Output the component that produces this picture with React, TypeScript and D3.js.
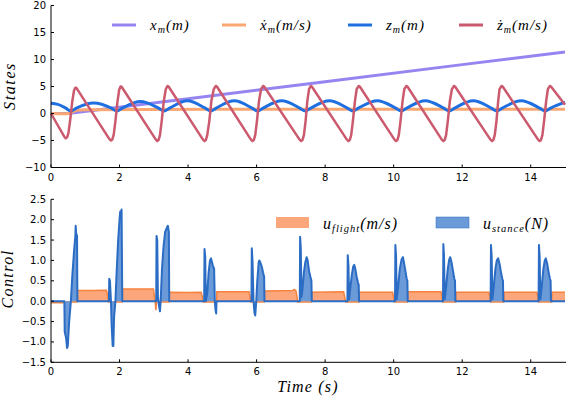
import React from 'react';
import * as d3 from 'd3';

// ---- data ----
const timeTicks = [0, 2, 4, 6, 8, 10, 12, 14];
const statesTicks = [-10, -5, 0, 5, 10, 15, 20];
const controlTicks = [-1.5, -1.0, -0.5, 0.0, 0.5, 1.0, 1.5, 2.0, 2.5];

// x_m (m)
const xPos: [number, number][] = [
  [0, 0], [0.5, 0.02], [4, 2.75], [8, 5.9], [12, 9.05], [15, 11.4],
];
// x dot (m/s)
const xVel: [number, number][] = [
  [0, 0], [0.45, -0.05], [0.6, 0.2], [0.75, 0.6], [1.0, 0.7], [3, 0.75], [6, 0.8], [15, 0.8],
];
// z_m (m)
const zPos: [number, number][] = [
  [0, 1.9], [0.2, 1.7], [0.42, 1.05], [0.58, 0.45], [0.74, 1.0], [1.25, 1.95],
  [1.76, 1.0], [1.92, 0.45], [2.08, 1.0], [2.61, 2.2],
  [3.14, 1.0], [3.3, 0.45], [3.46, 1.0], [3.98, 2.35],
  [4.5, 1.0], [4.66, 0.45], [4.82, 1.0], [5.35, 2.35],
  [5.87, 1.0], [6.03, 0.45], [6.19, 1.0], [6.73, 2.35],
  [7.26, 1.0], [7.42, 0.45], [7.58, 1.0], [8.12, 2.35],
  [8.65, 1.0], [8.81, 0.45], [8.97, 1.0], [9.52, 2.35],
  [10.06, 1.0], [10.22, 0.45], [10.38, 1.0], [10.92, 2.35],
  [11.46, 1.0], [11.62, 0.45], [11.78, 1.0], [12.32, 2.35],
  [12.85, 1.0], [13.01, 0.45], [13.17, 1.0], [13.72, 2.35],
  [14.26, 1.0], [14.42, 0.45], [14.58, 1.0], [15, 2.1],
];
// z dot (m/s)
const zVel: [number, number][] = [
  [0, 0], [0.4, -4.4], [0.43, -4.6], [0.47, -4.4], [0.51, -3.6], [0.56, -1.2], [0.62, 2.2], [0.67, 4.2], [0.71, 4.75], [0.74, 4.75],
  [1.7, -4.7], [1.75, -5.0], [1.79, -4.8], [1.83, -3.9], [1.88, -1.4], [1.94, 2.2], [1.99, 4.4], [2.03, 5.0], [2.06, 4.95],
  [3.05, -4.75], [3.1, -5.1], [3.14, -4.9], [3.18, -4.0], [3.23, -1.4], [3.29, 2.2], [3.35, 4.5], [3.4, 5.1], [3.43, 5.0],
  [4.43, -4.8], [4.48, -5.1], [4.52, -4.9], [4.56, -4.0], [4.62, -1.4], [4.68, 2.3], [4.75, 4.5], [4.81, 5.1], [4.84, 5.0],
  [5.83, -4.8], [5.88, -5.1], [5.92, -4.9], [5.96, -4.0], [6.01, -1.4], [6.07, 2.3], [6.13, 4.5], [6.19, 5.1], [6.22, 5.0],
  [7.25, -4.8], [7.3, -5.1], [7.34, -4.9], [7.38, -4.0], [7.43, -1.4], [7.48, 2.3], [7.53, 4.5], [7.58, 5.1], [7.61, 5.0],
  [8.63, -4.8], [8.68, -5.1], [8.72, -4.9], [8.76, -4.0], [8.81, -1.4], [8.87, 2.3], [8.92, 4.5], [8.98, 5.1], [9.01, 5.0],
  [10.02, -4.8], [10.07, -5.1], [10.11, -4.9], [10.15, -4.0], [10.2, -1.4], [10.26, 2.3], [10.31, 4.5], [10.37, 5.1], [10.4, 5.0],
  [11.4, -4.8], [11.45, -5.1], [11.49, -4.9], [11.53, -4.0], [11.58, -1.4], [11.64, 2.3], [11.7, 4.5], [11.76, 5.1], [11.79, 5.0],
  [12.82, -4.8], [12.87, -5.1], [12.91, -4.9], [12.95, -4.0], [13.0, -1.4], [13.05, 2.3], [13.09, 4.5], [13.15, 5.1], [13.18, 5.0],
  [14.21, -4.8], [14.26, -5.1], [14.3, -4.9], [14.34, -4.0], [14.39, -1.4], [14.45, 2.3], [14.5, 4.5], [14.56, 5.1], [14.59, 5.0],
  [15, 1.6],
];

// u_flight (m/s)
const uFlight: [number, number][] = [
  [0, -0.04], [0.44, -0.04], [0.46, -0.02], [0.76, -0.02], [0.77, 0.26], [1.2, 0.26], [1.62, 0.27], [1.66, 0.1], [1.68, -0.02],
  [2.08, -0.02], [2.09, 0.3], [2.6, 0.3], [2.99, 0.3], [3.02, 0.1], [3.04, -0.02], [3.06, -0.22], [3.08, -0.02],
  [3.44, -0.02], [3.45, 0.22], [4.0, 0.21], [4.38, 0.22], [4.42, 0.1], [4.44, -0.02],
  [4.83, -0.02], [4.84, 0.23], [5.78, 0.23], [5.81, 0.1], [5.83, -0.02],
  [6.22, -0.02], [6.23, 0.25], [7.05, 0.26], [7.1, 0.29], [7.15, 0.25], [7.18, 0.1], [7.2, -0.02],
  [7.6, -0.02], [7.61, 0.22], [8.54, 0.23], [8.57, 0.1], [8.6, -0.02],
  [8.99, -0.02], [9.0, 0.22], [9.97, 0.22], [10.0, 0.1], [10.02, -0.02],
  [10.4, -0.02], [10.41, 0.23], [11.38, 0.23], [11.41, 0.1], [11.43, -0.02],
  [11.81, -0.02], [11.82, 0.22], [12.78, 0.22], [12.81, 0.1], [12.83, -0.02],
  [13.21, -0.02], [13.22, 0.22], [14.18, 0.22], [14.21, 0.1], [14.23, -0.02],
  [14.61, -0.02], [14.62, 0.22], [15, 0.22],
];

// u_stance (N)
const uStance: [number, number][] = [
  [0, 0],
  [0.39, 0], [0.4, -0.75], [0.44, -0.9], [0.47, -1.15], [0.49, -1.1], [0.53, -0.5], [0.58, 0], [0.62, 0.6], [0.67, 1.2], [0.71, 1.6], [0.72, 1.85], [0.74, 1.6], [0.76, 1.62], [0.77, 0],
  [1.69, 0], [1.7, 0.55], [1.72, 0.5], [1.75, 0], [1.77, -0.6], [1.8, -1.1], [1.82, -1.1], [1.84, -0.4], [1.88, 0], [1.92, 0.8], [1.96, 1.5], [2.0, 2.0], [2.02, 2.2], [2.04, 2.1], [2.06, 2.25], [2.08, 0],
  [3.07, 0], [3.08, 1.6], [3.1, 1.5], [3.12, 0.1], [3.15, -0.1], [3.18, -0.25], [3.2, 0], [3.24, 0.8], [3.28, 1.3], [3.33, 1.7], [3.38, 1.8], [3.41, 1.85], [3.44, 1.7], [3.45, 0],
  [4.47, 0], [4.48, 1.28], [4.5, 1.1], [4.52, 0], [4.56, 0.2], [4.6, 0.7], [4.64, 1.0], [4.67, 1.05], [4.7, 0.95], [4.73, 0.85], [4.76, 0.8], [4.78, 0], [4.8, -0.2], [4.82, -0.3], [4.83, 0],
  [5.85, 0], [5.86, 1.3], [5.88, 1.0], [5.91, 0], [5.94, -0.3], [5.96, -0.35], [5.99, 0], [6.02, 0.5], [6.06, 0.95], [6.08, 1.0], [6.11, 0.95], [6.15, 0.85], [6.19, 0.7], [6.22, 0.6], [6.23, 0],
  [7.26, 0], [7.27, 1.58], [7.29, 1.3], [7.31, 0.1], [7.34, 0.3], [7.38, 0.7], [7.42, 0.95], [7.46, 1.08], [7.49, 1.0], [7.53, 0.75], [7.57, 0.6], [7.6, 0.5], [7.61, 0],
  [8.65, 0], [8.66, 1.13], [8.68, 0.9], [8.7, 0.05], [8.73, 0.3], [8.78, 0.65], [8.82, 0.85], [8.85, 0.89], [8.88, 0.8], [8.92, 0.6], [8.96, 0.45], [8.98, 0.4], [8.99, 0],
  [10.04, 0], [10.05, 1.38], [10.07, 1.1], [10.09, 0.05], [10.13, 0.35], [10.18, 0.8], [10.23, 1.02], [10.27, 1.08], [10.3, 0.95], [10.34, 0.75], [10.38, 0.55], [10.4, 0.5], [10.41, 0],
  [11.44, 0], [11.45, 1.4], [11.47, 1.1], [11.49, 0.05], [11.53, 0.35], [11.58, 0.8], [11.62, 1.02], [11.65, 1.08], [11.69, 0.95], [11.73, 0.75], [11.77, 0.55], [11.79, 0.5], [11.8, 0],
  [12.83, 0], [12.84, 1.38], [12.86, 1.1], [12.88, 0.05], [12.92, 0.35], [12.97, 0.8], [13.01, 1.0], [13.05, 1.05], [13.09, 0.92], [13.13, 0.72], [13.17, 0.55], [13.19, 0.5], [13.2, 0],
  [14.23, 0], [14.24, 1.38], [14.26, 1.1], [14.28, 0.05], [14.32, 0.35], [14.37, 0.8], [14.41, 1.0], [14.44, 1.05], [14.48, 0.92], [14.52, 0.72], [14.56, 0.55], [14.58, 0.5], [14.59, 0],
  [15, 0],
];

const MATH = '"Liberation Serif", "Times New Roman", serif';
const SANS = '"DejaVu Sans", sans-serif';
const minus = (s: string) => s.replace('-', '\u2212');

export default function App() {
  const x = d3.scaleLinear().domain([0, 15]).range([51, 565]);
  const yTop = d3.scaleLinear().domain([-10, 20]).range([167.5, 5.5]);
  const yBot = d3.scaleLinear().domain([-1.5, 2.5]).range([362.3, 199.3]);

  const smooth = d3.line<[number, number]>().x(d => x(d[0])).y(d => yTop(d[1])).curve(d3.curveMonotoneX);
  const straight = d3.line<[number, number]>().x(d => x(d[0])).y(d => yTop(d[1]));
  const botLine = d3.line<[number, number]>().x(d => x(d[0])).y(d => yBot(d[1]));
  const botArea = d3.area<[number, number]>().x(d => x(d[0])).y0(yBot(0)).y1(d => yBot(d[1]));

  const topSeries = [
    { data: xPos, color: '#9585f0', w: 3, gen: straight },
    { data: xVel, color: '#fba772', w: 3, gen: smooth },
    { data: zPos, color: '#1f6fe0', w: 3, gen: smooth },
    { data: zVel, color: '#cc5a6e', w: 2.5, gen: straight },
  ];

  const topLegend = [
    { color: '#9585f0', x0: 112, main: 'x', sub: 'm', tail: '(m)' },
    { color: '#fba772', x0: 222, main: '\u1E8B', sub: 'm', tail: '(m/s)' },
    { color: '#1f6fe0', x0: 348, main: 'z', sub: 'm', tail: '(m)' },
    { color: '#cc5a6e', x0: 459, main: '\u017C', sub: 'm', tail: '(m/s)' },
  ];

  const axes = (y: d3.ScaleLinear<number, number>, ticks: number[], fmt: (v: number) => string, yAxis: number) => (
    <g>
      <line x1={51} x2={51} y1={y.range()[1]} y2={y.range()[0]} stroke="#000" strokeWidth={1} />
      <line x1={51} x2={566} y1={yAxis} y2={yAxis} stroke="#000" strokeWidth={1} />
      {ticks.map(t => (
        <g key={'y' + t}>
          <line x1={51} x2={54} y1={y(t)} y2={y(t)} stroke="#000" />
          <text x={46} y={y(t)} dy="0.35em" textAnchor="end" fontFamily={SANS} fontSize={10}>{minus(fmt(t))}</text>
        </g>
      ))}
      {timeTicks.map(t => (
        <g key={'x' + t}>
          <line x1={x(t)} x2={x(t)} y1={yAxis} y2={yAxis - 3} stroke="#000" />
          <text x={x(t)} y={yAxis + 13} textAnchor="middle" fontFamily={SANS} fontSize={10}>{t}</text>
        </g>
      ))}
    </g>
  );

  return (
    <div style={{ position: 'fixed', left: 0, top: 0 }}>
      <svg width={566} height={398} style={{ display: 'block', background: '#fff' }}>
        {/* top panel */}
        {topSeries.map((s, i) => (
          <path key={i} d={s.gen(s.data) || ''} fill="none" stroke={s.color} strokeWidth={s.w} strokeLinejoin="round" />
        ))}
        {axes(yTop, statesTicks, v => String(v), 167.5)}
        {topLegend.map((l, i) => (
          <g key={i}>
            <line x1={l.x0} x2={l.x0 + 24} y1={25} y2={25} stroke={l.color} strokeWidth={3} />
            <text x={l.x0 + 38} y={30} fontFamily={MATH} fontStyle="italic" fontSize={15} letterSpacing={1}>
              {l.main}<tspan fontSize={10} dy={3}>{l.sub}</tspan><tspan dy={-3}>{l.tail}</tspan>
            </text>
          </g>
        ))}
        <text transform="translate(15,86) rotate(-90)" textAnchor="middle" fontFamily={MATH} fontStyle="italic" fontSize={16} letterSpacing={1.6}>States</text>

        {/* bottom panel */}
        <path d={botArea(uFlight) || ''} fill="#fca77b" />
        <path d={botLine(uFlight) || ''} fill="none" stroke="#f5823f" strokeWidth={1.5} />
        <path d={botArea(uStance) || ''} fill="#6b9ad8" />
        <path d={botLine(uStance) || ''} fill="none" stroke="#2b6cc4" strokeWidth={2} strokeLinejoin="round" />
        {axes(yBot, controlTicks, v => v.toFixed(1), 362.3)}
        <rect x={276} y={217} width={33} height={11} fill="#fca77b" />
        <text x={323} y={229} fontFamily={MATH} fontStyle="italic" fontSize={16} letterSpacing={1}>
          u<tspan fontSize={10.5} dy={3}>flight</tspan><tspan dy={-3}>(m/s)</tspan>
        </text>
        <rect x={436} y={217} width={33} height={11} fill="#6b9ad8" stroke="#2b6cc4" strokeWidth={0.5} />
        <text x={483} y={229} fontFamily={MATH} fontStyle="italic" fontSize={16} letterSpacing={1}>
          u<tspan fontSize={10.5} dy={3}>stance</tspan><tspan dy={-3}>(N)</tspan>
        </text>
        <text transform="translate(13,279) rotate(-90)" textAnchor="middle" fontFamily={MATH} fontStyle="italic" fontSize={16} letterSpacing={1.4}>Control</text>
        <text x={308} y={392} textAnchor="middle" fontFamily={MATH} fontStyle="italic" fontSize={16} letterSpacing={1.2}>Time (s)</text>
      </svg>
    </div>
  );
}
